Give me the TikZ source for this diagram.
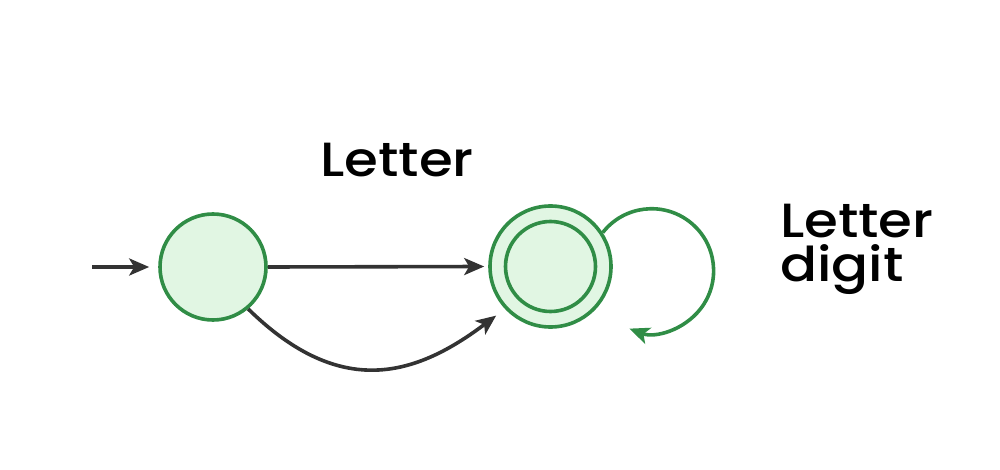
\documentclass[tikz,border=0pt]{standalone}
\usepackage{fontspec}
\newfontfamily\lblfont{Poppins Medium}[FakeStretch=1.14]
\usetikzlibrary{arrows.meta,calc}
\definecolor{gstroke}{RGB}{48,141,70}
\definecolor{gfill}{RGB}{225,246,227}
\definecolor{dark}{RGB}{51,51,51}
\tikzset{
  statenode/.style={circle,draw=gstroke,fill=gfill,line width=3.6pt,inner sep=0pt},
  arr/.style={draw=dark,line width=3.6pt,-{Stealth[length=20pt,width=17pt,inset=5pt]}},
  looparr/.style={draw=gstroke,line width=3.6pt,-{Stealth[length=20pt,width=17pt,inset=5pt]}},
  lbl/.style={font=\lblfont\fontsize{48}{48}\selectfont,text=black,inner sep=0pt}
}
\begin{document}
\begin{tikzpicture}[x=1pt,y=1pt]
\useasboundingbox (0,0) rectangle (1000,-470);
\node[statenode,minimum size=106pt] (s1) at (213,-267) {};
\node[statenode,minimum size=121pt] (s2) at (550.5,-266.5) {};
\draw[gstroke,line width=3.6pt] (s2.center) circle[radius=45pt];
\coordinate (init) at (92,-267);
\draw[arr] (init) -- ([xshift=-9pt]s1.west);
\draw[arr] (s1.east) -- ([xshift=-4pt]s2.west);
\draw[arr,shorten >=11pt] (s1.-50) .. controls (341,-400) and (416,-376) .. (s2.223);
\draw[looparr] (s2.33) arc[start angle=142,end angle=-111,radius=62pt];
\node[lbl,anchor=base] (lblA) at (397,-177) {Letter};
\node[lbl,anchor=base west,text depth=0pt] (lblB) at (780,-237) {Letter};
\node[lbl,anchor=base west,text height=34pt] (lblC) at (780,-281) {digit};
\end{tikzpicture}
\end{document}
